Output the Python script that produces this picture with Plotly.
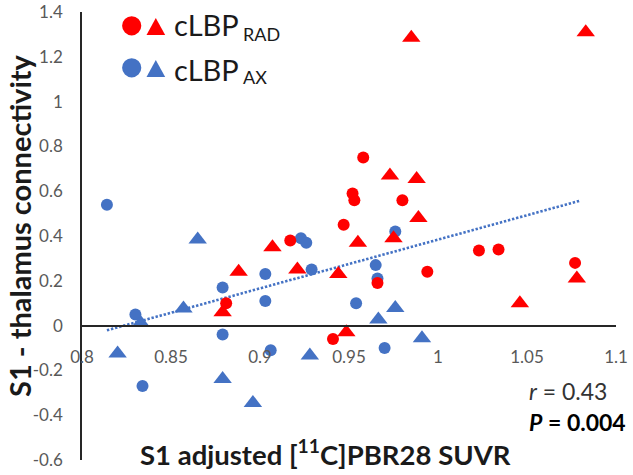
import plotly.graph_objects as go

# ---------------- data ----------------
blue_circle_x = [0.814, 0.830, 0.834, 0.879, 0.879, 0.903, 0.903, 0.906, 0.923, 0.926, 0.929, 0.954, 0.965, 0.966, 0.970, 0.976]
blue_circle_y = [0.54, 0.05, -0.27, 0.17, -0.04, 0.23, 0.11, -0.11, 0.39, 0.37, 0.25, 0.10, 0.27, 0.21, -0.10, 0.42]

blue_tri_x = [0.820, 0.833, 0.857, 0.865, 0.879, 0.896, 0.928, 0.9665, 0.976, 0.991]
blue_tri_y = [-0.125, 0.012, 0.076, 0.384, -0.238, -0.345, -0.134, 0.027, 0.079, -0.056]

red_circle_x = [0.881, 0.917, 0.947, 0.952, 0.953, 0.958, 0.980, 0.941, 0.966, 0.994, 1.023, 1.034, 1.077]
red_circle_y = [0.10, 0.38, 0.45, 0.59, 0.56, 0.75, 0.56, -0.06, 0.19, 0.24, 0.335, 0.34, 0.28]

red_tri_x = [0.879, 0.888, 0.907, 0.921, 0.944, 0.9485, 0.955, 0.973, 0.975, 0.988, 0.989, 0.985, 1.083, 1.046, 1.078]
red_tri_y = [0.06, 0.24, 0.35, 0.25, 0.23, -0.03, 0.37, 0.67, 0.39, 0.655, 0.48, 1.285, 1.31, 0.10, 0.21]

trend_x = [0.814, 1.080]
trend_y = [-0.021, 0.558]

x_tickvals = [0.8, 0.85, 0.9, 0.95, 1.0, 1.05, 1.1]
x_ticktext = ["0.8", "0.85", "0.9", "0.95", "1", "1.05", "1.1"]
y_tickvals = [-0.6, -0.4, -0.2, 0.0, 0.2, 0.4, 0.6, 0.8, 1.0, 1.2, 1.4]
y_ticktext = ["-0.6", "-0.4", "-0.2", "0", "0.2", "0.4", "0.6", "0.8", "1", "1.2", "1.4"]

x_title = "S1 adjusted [<sup>11</sup>C]PBR28 SUVR"
y_title = "S1 - thalamus connectivity"
stats_r = "<i>r</i> = 0.43"
stats_p = "<b><i>P</i> = 0.004</b>"
legend_main = "cLBP"
legend_subs = ["RAD", "AX"]

RED = "#FF0000"
BLUE = "#4472C4"
FONT = "Lato"

# ---------------- layout geometry ----------------
W, H = 633, 475
ML, MR, MT, MB = 82, 17, 12, 15
PW, PH = W - ML - MR, H - MT - MB


def px_x(px):
    return (px - ML) / PW


def px_y(py):
    return (H - MB - py) / PH


fig = go.Figure()

fig.add_trace(go.Scatter(x=trend_x, y=trend_y, mode="lines",
                         line=dict(color=BLUE, width=2.6, dash="2.4px,1.8px"),
                         hoverinfo="skip", showlegend=False))
fig.add_trace(go.Scatter(x=blue_circle_x, y=blue_circle_y, mode="markers",
                         marker=dict(symbol="circle", size=12, color=BLUE),
                         showlegend=False))
fig.add_trace(go.Scatter(x=blue_tri_x, y=blue_tri_y, mode="markers",
                         marker=dict(symbol="triangle-up", size=16, color=BLUE),
                         showlegend=False))
fig.add_trace(go.Scatter(x=red_circle_x, y=red_circle_y, mode="markers",
                         marker=dict(symbol="circle", size=12, color=RED),
                         showlegend=False))
fig.add_trace(go.Scatter(x=red_tri_x, y=red_tri_y, mode="markers",
                         marker=dict(symbol="triangle-up", size=16, color=RED),
                         showlegend=False))

# legend symbols as shapes (paper coords)
shapes = []
for cy, col in [(25.8, RED), (67.8, BLUE)]:
    cx, r = 131.7, 9.6
    shapes.append(dict(type="circle", xref="paper", yref="paper",
                       x0=px_x(cx - r), x1=px_x(cx + r), y0=px_y(cy + r), y1=px_y(cy - r),
                       fillcolor=col, line=dict(width=0)))
for top, col in [(18.0, RED), (60.0, BLUE)]:
    bot = top + 17
    path = "M {:.4f} {:.4f} L {:.4f} {:.4f} L {:.4f} {:.4f} Z".format(
        px_x(146.5), px_y(bot), px_x(165.2), px_y(bot), px_x(155.8), px_y(top))
    shapes.append(dict(type="path", xref="paper", yref="paper", path=path,
                       fillcolor=col, line=dict(width=0)))

annotations = []
for cy, sub, scy in [(24.8, legend_subs[0], 34.0), (69.0, legend_subs[1], 76.5)]:
    annotations.append(dict(text=legend_main, x=px_x(172), y=px_y(cy), xref="paper", yref="paper",
                            xanchor="left", yanchor="middle", showarrow=False,
                            font=dict(family=FONT, size=29, color="#1a1a1a")))
    annotations.append(dict(text=sub, x=px_x(241), y=px_y(scy), xref="paper", yref="paper",
                            xanchor="left", yanchor="middle", showarrow=False,
                            font=dict(family=FONT, size=18, color="#1a1a1a")))

annotations.append(dict(text=y_title, x=px_x(19), y=px_y(226), xref="paper", yref="paper",
                        xanchor="center", yanchor="middle", textangle=-90, showarrow=False,
                        font=dict(family=FONT, size=29, color="#1a1a1a", weight="bold")))
annotations.append(dict(text="<b>" + x_title + "</b>", x=px_x(325), y=px_y(452), xref="paper", yref="paper",
                        xanchor="center", yanchor="middle", showarrow=False,
                        font=dict(family=FONT, size=27.5, color="#1a1a1a")))
annotations.append(dict(text=stats_r, x=px_x(527), y=px_y(391), xref="paper", yref="paper",
                        xanchor="left", yanchor="middle", showarrow=False,
                        font=dict(family=FONT, size=23, color="#333333")))
annotations.append(dict(text=stats_p, x=px_x(527), y=px_y(421.5), xref="paper", yref="paper",
                        xanchor="left", yanchor="middle", showarrow=False,
                        font=dict(family=FONT, size=23, color="#000000")))

fig.update_layout(
    width=W, height=H,
    margin=dict(l=ML, r=MR, t=MT, b=MB, pad=0),
    paper_bgcolor="white", plot_bgcolor="white",
    showlegend=False,
    shapes=shapes,
    annotations=annotations,
    xaxis=dict(range=[0.8, 1.1], anchor="free", position=0.3,
               showline=True, linecolor="#262626", linewidth=1.5,
               showgrid=False, zeroline=False,
               tickmode="array", tickvals=x_tickvals, ticktext=x_ticktext,
               ticks="outside", ticklen=16, tickcolor="rgba(0,0,0,0)",
               tickfont=dict(family=FONT, size=17, color="#595959"),
               automargin=False),
    yaxis=dict(range=[-0.6, 1.4],
               showline=True, linecolor="#262626", linewidth=1.5,
               showgrid=False, zeroline=False,
               tickmode="array", tickvals=y_tickvals, ticktext=y_ticktext,
               ticks="outside", ticklen=14, tickcolor="rgba(0,0,0,0)",
               tickfont=dict(family=FONT, size=17, color="#595959"),
               automargin=False),
)

fig.write_html("out.html", config={"displayModeBar": False},
               post_script="document.body.style.margin='0';document.body.style.overflow='hidden';")
